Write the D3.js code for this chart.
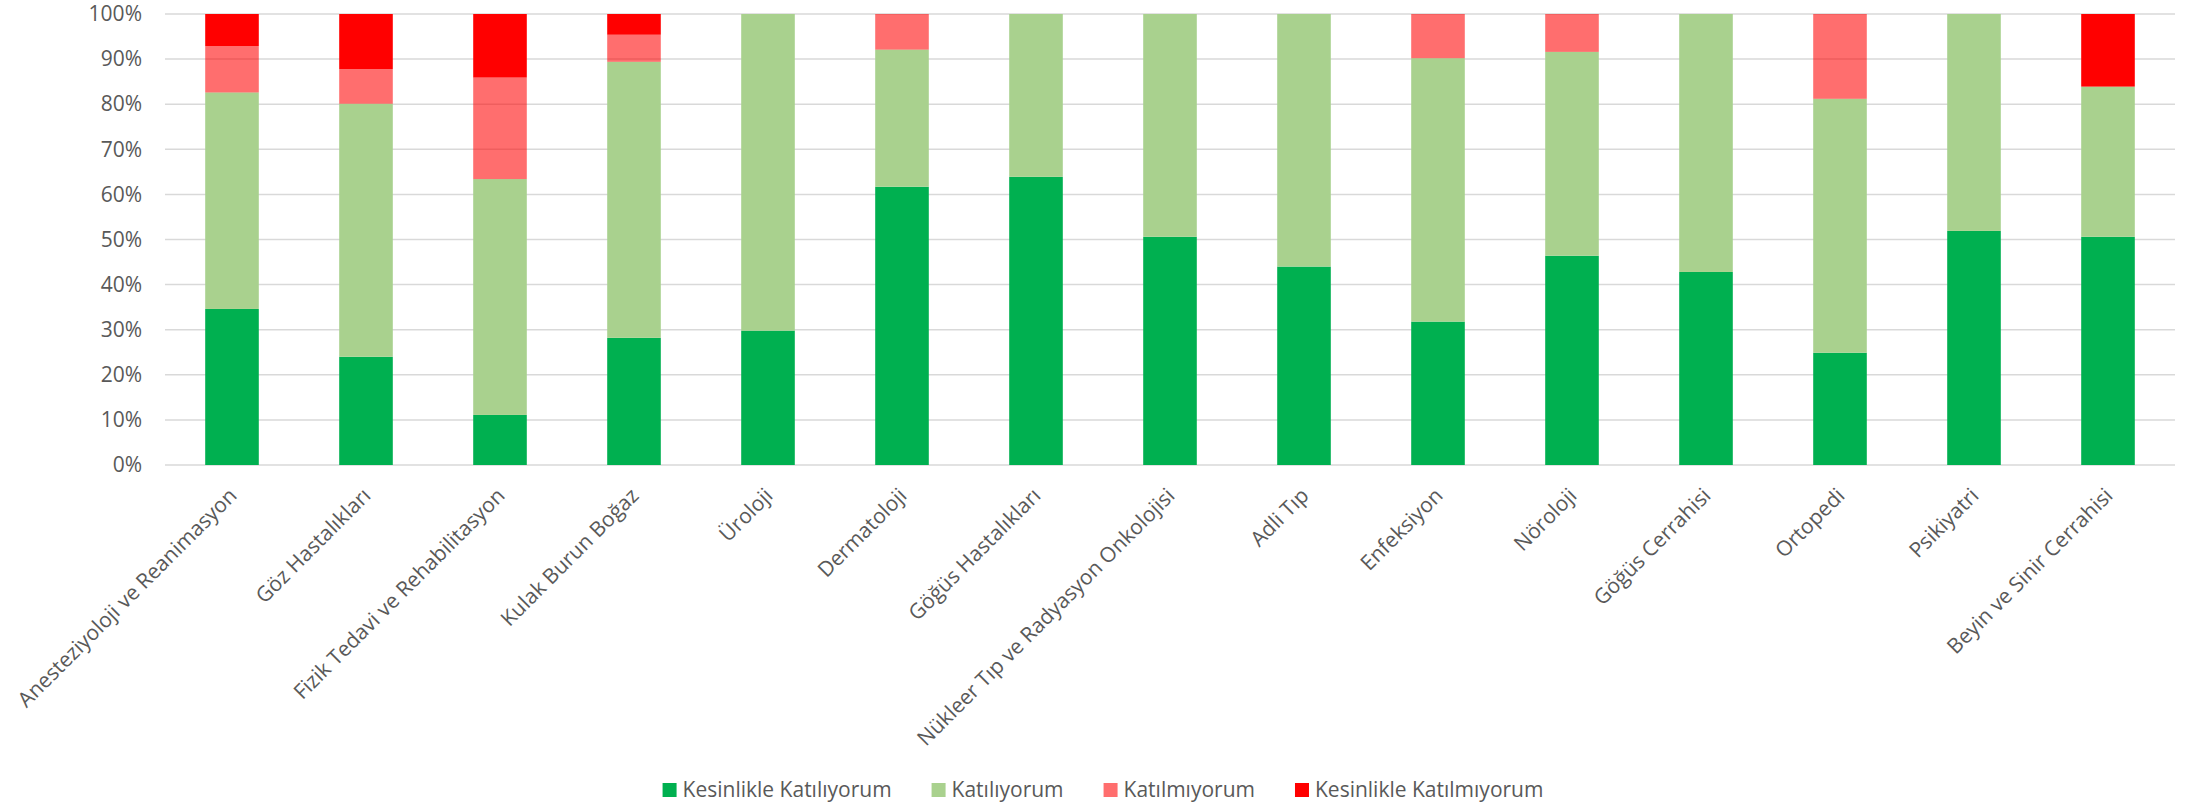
<!DOCTYPE html>
<html>
<head>
<meta charset="utf-8">
<script src="https://cdn.jsdelivr.net/npm/d3@7"></script>
<style>
    html, body { margin: 0; padding: 0; background: #fff; }
    svg text { font-family: "Open Sans", sans-serif; fill: #595959; }
</style>
</head>
<body>
<svg id="chart"></svg>
<script>

// Categories (bölümler)
const categories = [
    "Anesteziyoloji ve Reanimasyon", "Göz Hastalıkları", "Fizik Tedavi ve Rehabilitasyon",
    "Kulak Burun Boğaz", "Üroloji", "Dermatoloji", "Göğüs Hastalıkları",
    "Nükleer Tıp ve Radyasyon Onkolojisi", "Adli Tıp", "Enfeksiyon", "Nöroloji",
    "Göğüs Cerrahisi", "Ortopedi", "Psikiyatri", "Beyin ve Sinir Cerrahisi"
];

// Series values, percent
const kesinlikleKatiliyorum  = [34.6, 24.0, 11.1, 28.2, 29.8, 61.7, 63.9, 50.6, 44.0, 31.8, 46.4, 42.8, 24.9, 51.9, 50.6];
const katiliyorum            = [48.0, 56.1, 52.3, 61.2, 70.2, 30.4, 36.1, 49.4, 56.0, 58.4, 45.2, 57.2, 56.3, 48.1, 33.3];
const katilmiyorum           = [10.3, 7.7, 22.5, 6.0, 0, 7.9, 0, 0, 0, 9.8, 8.4, 0, 18.8, 0, 0];
const kesinlikleKatilmiyorum = [7.1, 12.2, 14.1, 4.6, 0, 0, 0, 0, 0, 0, 0, 0, 0, 0, 16.1];

const seriesNames = ["Kesinlikle Katılıyorum", "Katılıyorum", "Katılmıyorum", "Kesinlikle Katılmıyorum"];
const seriesColors = ["#00B050", "#A9D18E", "rgba(255,0,0,0.57)", "#FF0000"];

const yTicks = [0, 10, 20, 30, 40, 50, 60, 70, 80, 90, 100];

const width = 2206;
const height = 808;
const margin = {top: 14, right: 31, bottom: 343, left: 165};

// build rows for d3.stack
const rows = categories.map((c, i) => ({
    name: c,
    s0: kesinlikleKatiliyorum[i],
    s1: katiliyorum[i],
    s2: katilmiyorum[i],
    s3: kesinlikleKatilmiyorum[i]
}));

const keys = ["s0", "s1", "s2", "s3"];
const stacked = d3.stack().keys(keys)(rows);

const svg = d3.select("#chart")
    .attr("width", width)
    .attr("height", height);

const x = d3.scaleBand()
    .domain(categories)
    .range([margin.left, width - margin.right])
    .paddingInner(0.6)
    .paddingOuter(0.3);

const y = d3.scaleLinear()
    .domain([0, 100])
    .range([height - margin.bottom, margin.top]);

// gridlines
svg.append("g")
    .selectAll("line")
    .data(yTicks)
    .enter()
    .append("line")
        .attr("x1", margin.left)
        .attr("x2", width - margin.right)
        .attr("y1", d => y(d))
        .attr("y2", d => y(d))
        .attr("stroke", "#D9D9D9")
        .attr("stroke-width", 1.5);

// y axis labels
const yAxis = d3.axisLeft(y)
    .tickValues(yTicks)
    .tickFormat(d => d + "%")
    .tickSize(0)
    .tickPadding(23);

svg.append("g")
    .attr("transform", `translate(${margin.left},0)`)
    .call(yAxis)
    .call(g => g.select(".domain").remove())
    .call(g => g.selectAll("text")
        .style("font-size", "21px")
        .attr("fill", "#595959"));

// bars
svg.append("g")
    .selectAll("g")
    .data(stacked)
    .enter()
    .append("g")
        .attr("fill", (d, i) => seriesColors[i])
    .selectAll("rect")
    .data(d => d)
    .enter()
    .append("rect")
        .attr("x", d => x(d.data.name))
        .attr("width", x.bandwidth())
        .attr("y", d => y(d[1]))
        .attr("height", d => y(d[0]) - y(d[1]));

// rotated category labels
svg.append("g")
    .selectAll("text")
    .data(categories)
    .enter()
    .append("text")
        .attr("transform", d => `translate(${x(d) + x.bandwidth() / 2 + 6},${y(0) + 32}) rotate(-45)`)
        .attr("text-anchor", "end")
        .style("font-size", "21px")
        .text(d => d);

// legend
const legend = svg.append("g");
const item = legend.selectAll("g")
    .data(seriesNames)
    .enter()
    .append("g");

item.append("rect")
    .attr("width", 14)
    .attr("height", 14)
    .attr("y", -7)
    .attr("fill", (d, i) => seriesColors[i]);

item.append("text")
    .attr("x", 20)
    .attr("dy", "0.35em")
    .style("font-size", "21px")
    .text(d => d);

// place legend items one after another, centred
let offset = 0;
item.each(function() {
    const w = 20 + d3.select(this).select("text").node().getComputedTextLength();
    d3.select(this).attr("transform", `translate(${offset},0)`);
    offset += w + 40;
});
const total = offset - 40;
legend.attr("transform", `translate(${(width - total) / 2},790)`);

</script>
</body>
</html>
